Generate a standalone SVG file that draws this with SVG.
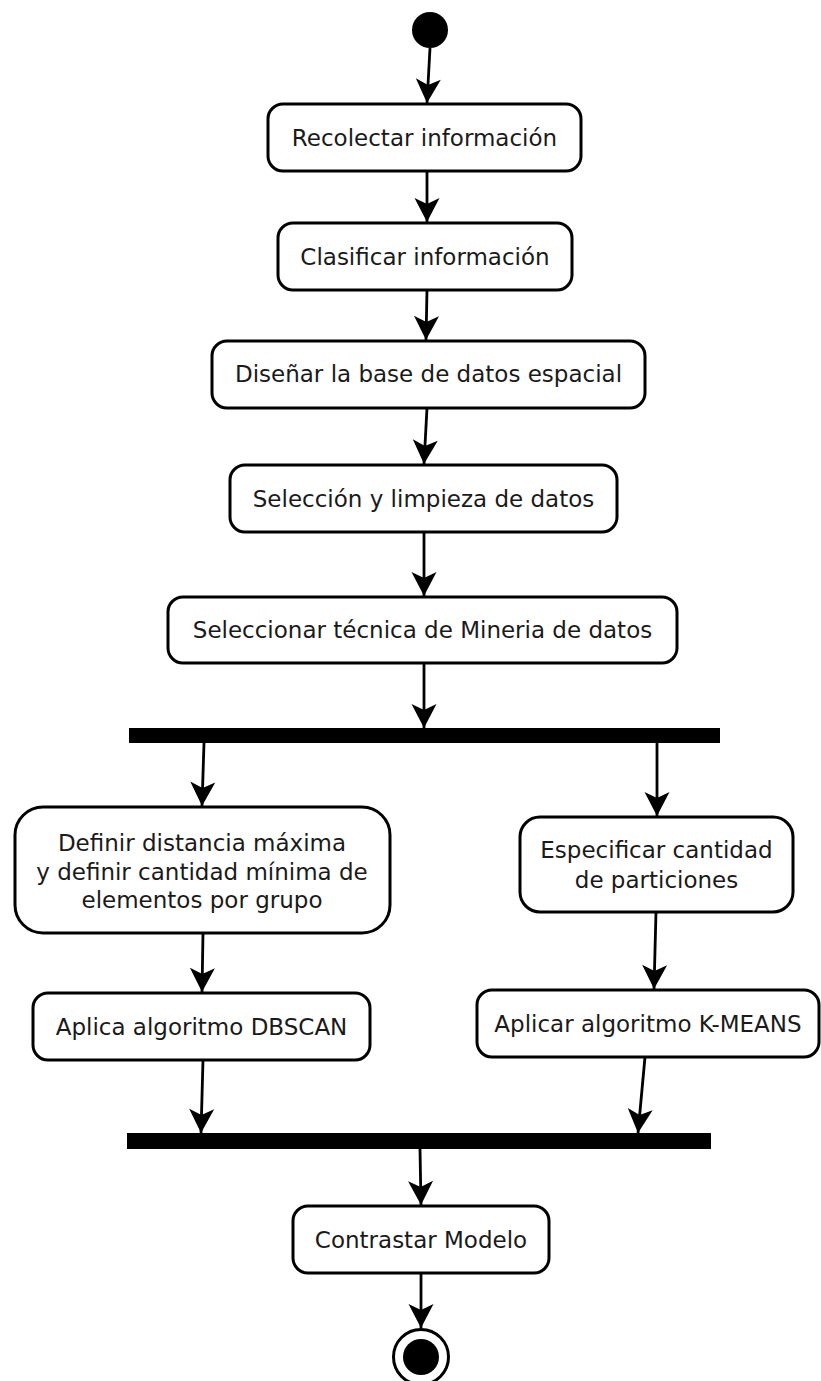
<svg xmlns="http://www.w3.org/2000/svg" width="821" height="1381" viewBox="0 0 821 1381">
  <style>
    .act rect { fill: #ffffff; stroke: #000000; stroke-width: 3; }
    .act text { font-family: "DejaVu Sans", "Liberation Sans", sans-serif; font-size: 23px; fill: #1a1a1a; text-anchor: middle; }
    .bar { fill: #000000; }
    #connectors line { stroke: #000000; stroke-width: 2.8; fill: none; marker-end: url(#arrow); }
  </style>
  <defs>
    <!-- notched filled arrowhead; reference point sits at the tip -->
    <marker id="arrow" viewBox="0 0 26 26" refX="25" refY="13" markerWidth="26" markerHeight="26" markerUnits="userSpaceOnUse" orient="auto">
      <path d="M25,13 L1,0.5 L7,13 L1,25.5 Z" fill="#000000"/>
    </marker>
  </defs>

  <!-- initial state -->
  <g id="start">
    <circle cx="430" cy="30" r="18" fill="#000000"/>
  </g>

  <g id="recolectar" class="act">
    <rect x="268" y="104" width="313" height="67" rx="15"/>
    <text x="424.5" y="146">Recolectar información</text>
  </g>

  <g id="clasificar" class="act">
    <rect x="278" y="223" width="294" height="67" rx="15"/>
    <text x="425" y="265">Clasificar información</text>
  </g>

  <g id="disenar" class="act">
    <rect x="212" y="341" width="433" height="67" rx="15"/>
    <text x="428.5" y="382">Diseñar la base de datos espacial</text>
  </g>

  <g id="seleccion" class="act">
    <rect x="230" y="465" width="387" height="67" rx="15"/>
    <text x="423.5" y="507">Selección y limpieza de datos</text>
  </g>

  <g id="tecnica" class="act">
    <rect x="168" y="597" width="509" height="66" rx="15"/>
    <text x="422.5" y="638">Seleccionar técnica de Mineria de datos</text>
  </g>

  <!-- fork -->
  <g id="fork">
    <rect class="bar" x="129" y="728" width="591" height="15"/>
  </g>

  <g id="definir" class="act">
    <rect x="15" y="807" width="375" height="126" rx="28"/>
    <text x="202" y="851">Definir distancia máxima</text>
    <text x="202" y="880">y definir cantidad mínima de</text>
    <text x="202" y="908">elementos por grupo</text>
  </g>

  <g id="especificar" class="act">
    <rect x="520" y="817" width="273" height="95" rx="20"/>
    <text x="656.5" y="858">Especificar cantidad</text>
    <text x="656.5" y="888">de particiones</text>
  </g>

  <g id="dbscan" class="act">
    <rect x="33" y="993" width="337" height="67" rx="15"/>
    <text x="201.5" y="1035">Aplica algoritmo DBSCAN</text>
  </g>

  <g id="kmeans" class="act">
    <rect x="477" y="990" width="342" height="67" rx="15"/>
    <text x="648" y="1032">Aplicar algoritmo K-MEANS</text>
  </g>

  <!-- join -->
  <g id="join">
    <rect class="bar" x="127" y="1133" width="584" height="16"/>
  </g>

  <g id="contrastar" class="act">
    <rect x="293" y="1206" width="256" height="67" rx="15"/>
    <text x="421" y="1248">Contrastar Modelo</text>
  </g>

  <!-- final state -->
  <g id="end">
    <circle cx="421" cy="1357" r="27.5" fill="#ffffff" stroke="#000000" stroke-width="3"/>
    <circle cx="421" cy="1357" r="18" fill="#000000"/>
  </g>

  <g id="connectors">
    <line x1="430" y1="48" x2="427" y2="103"/>
    <line x1="427" y1="171" x2="427" y2="222"/>
    <line x1="427" y1="290" x2="426" y2="340"/>
    <line x1="427" y1="408" x2="424" y2="464"/>
    <line x1="424" y1="532" x2="424" y2="596"/>
    <line x1="424" y1="663" x2="424" y2="728"/>
    <line x1="204" y1="743" x2="202" y2="806"/>
    <line x1="657" y1="743" x2="657" y2="816"/>
    <line x1="203" y1="933" x2="202" y2="992"/>
    <line x1="656" y1="912" x2="654" y2="989"/>
    <line x1="203" y1="1060" x2="201" y2="1133"/>
    <line x1="645" y1="1057" x2="638" y2="1133"/>
    <line x1="420" y1="1149" x2="421" y2="1205"/>
    <line x1="421" y1="1273" x2="421" y2="1328"/>
  </g>
</svg>
